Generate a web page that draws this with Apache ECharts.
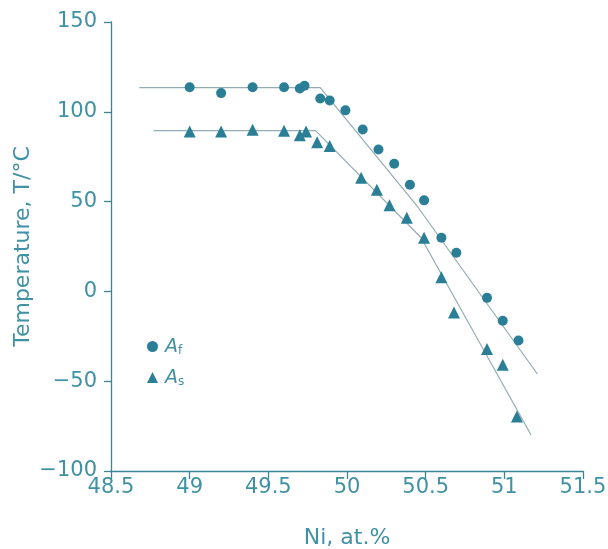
<!DOCTYPE html>
<html>
<head>
<meta charset="utf-8">
<script src="https://cdn.jsdelivr.net/npm/echarts@6/dist/echarts.min.js"></script>
<style>html,body{margin:0;padding:0;background:#fff}#c{width:608px;height:549px}</style>
</head>
<body>
<div id="c"></div>
<script>
// Data
var afX = [49.0, 49.2, 49.4, 49.6, 49.7, 49.73, 49.83, 49.89, 49.99, 50.1, 50.2, 50.3, 50.4, 50.49, 50.6, 50.695, 50.89, 50.99, 51.09];
var afY = [113.7, 110.4, 113.7, 113.7, 113, 114.5, 107.4, 106.3, 100.8, 90.1, 79.0, 71.1, 59.4, 50.7, 29.9, 21.5, -3.6, -16.3, -27.3];
var asX = [49.0, 49.2, 49.4, 49.6, 49.7, 49.74, 49.81, 49.89, 50.09, 50.19, 50.27, 50.38, 50.49, 50.6, 50.68, 50.89, 50.99, 51.08];
var asY = [89, 89, 90, 89.5, 87, 89, 83, 81, 63.3, 56.6, 47.9, 41.0, 29.9, 7.9, -11.7, -32.1, -40.8, -69.7];
var afFitX = [48.68, 49.83, 50.45, 51.21];
var afFitY = [113.5, 113.5, 47, -46];
var asFitX = [48.77, 49.8, 50.47, 51.17];
var asFitY = [89.5, 89.5, 30, -80];
var xTicks = {min: 48.5, max: 51.5, interval: 0.5};
var yTicks = {min: -100, max: 150, interval: 50};

function pairs(xs, ys) { return xs.map(function (x, i) { return [x, ys[i]]; }); }

var txt = '#3f91a5';
var axisCol = '#3d8494';
var mk = '#2a7f97';
var fitCol = '#93adb2';
var font = 'DejaVu Sans';

var chart = echarts.init(document.getElementById('c'), null, {renderer: 'canvas'});
chart.setOption({
  animation: false,
  backgroundColor: '#fff',
  grid: {left: 111, right: 25, top: 22, bottom: 78, containLabel: false, outerBoundsMode: 'none'},
  xAxis: {
    type: 'value', min: xTicks.min, max: xTicks.max, interval: xTicks.interval,
    name: 'Ni, at.%', nameLocation: 'middle', nameGap: 56, nameMoveOverlap: false,
    nameTextStyle: {color: txt, fontSize: 22, fontFamily: font},
    axisLine: {show: true, onZero: false, lineStyle: {color: axisCol, width: 1.3}},
    axisTick: {show: true, inside: false, length: 8, lineStyle: {color: axisCol, width: 1.3}},
    axisLabel: {color: txt, fontSize: 21, fontFamily: font, margin: 6},
    splitLine: {show: false}
  },
  yAxis: {
    type: 'value', min: yTicks.min, max: yTicks.max, interval: yTicks.interval,
    name: 'Temperature, T/°C', nameLocation: 'middle', nameGap: 77, nameRotate: 90, nameMoveOverlap: false,
    nameTextStyle: {color: txt, fontSize: 22, fontFamily: font},
    axisLine: {show: true, onZero: false, lineStyle: {color: axisCol, width: 1.3}},
    axisTick: {show: true, inside: false, length: 7, lineStyle: {color: axisCol, width: 1.3}},
    axisLabel: {color: txt, fontSize: 21, fontFamily: font, margin: 14,
      formatter: function (v) { return String(v).replace('-', '\u2212'); }},
    splitLine: {show: false}
  },
  legend: {
    data: [{name: 'Af', icon: 'circle'}, {name: 'As', icon: 'triangle'}],
    orient: 'vertical', left: 142, top: 333, itemWidth: 11, itemHeight: 11, itemGap: 12,
    formatter: function (n) { return '{a|A}{b|' + n.charAt(1) + '}'; },
    textStyle: {
      color: txt, fontFamily: font, padding: [0, 0, 0, 2],
      rich: {
        a: {fontSize: 19, fontStyle: 'italic', color: txt, fontFamily: font, lineHeight: 21, verticalAlign: 'bottom'},
        b: {fontSize: 12, color: txt, fontFamily: font, lineHeight: 21, verticalAlign: 'bottom'}
      }
    }
  },
  series: [
    {name: 'AfFit', type: 'line', data: pairs(afFitX, afFitY), showSymbol: false, silent: true,
      lineStyle: {color: fitCol, width: 1.2}, z: 1},
    {name: 'AsFit', type: 'line', data: pairs(asFitX, asFitY), showSymbol: false, silent: true,
      lineStyle: {color: fitCol, width: 1.2}, z: 1},
    {name: 'Af', type: 'scatter', symbol: 'circle', symbolSize: 10, data: pairs(afX, afY),
      itemStyle: {color: mk, opacity: 1}, z: 3},
    {name: 'As', type: 'scatter', symbol: 'triangle', symbolSize: 12, data: pairs(asX, asY),
      itemStyle: {color: mk, opacity: 1}, z: 3}
  ]
});
</script>
</body>
</html>
